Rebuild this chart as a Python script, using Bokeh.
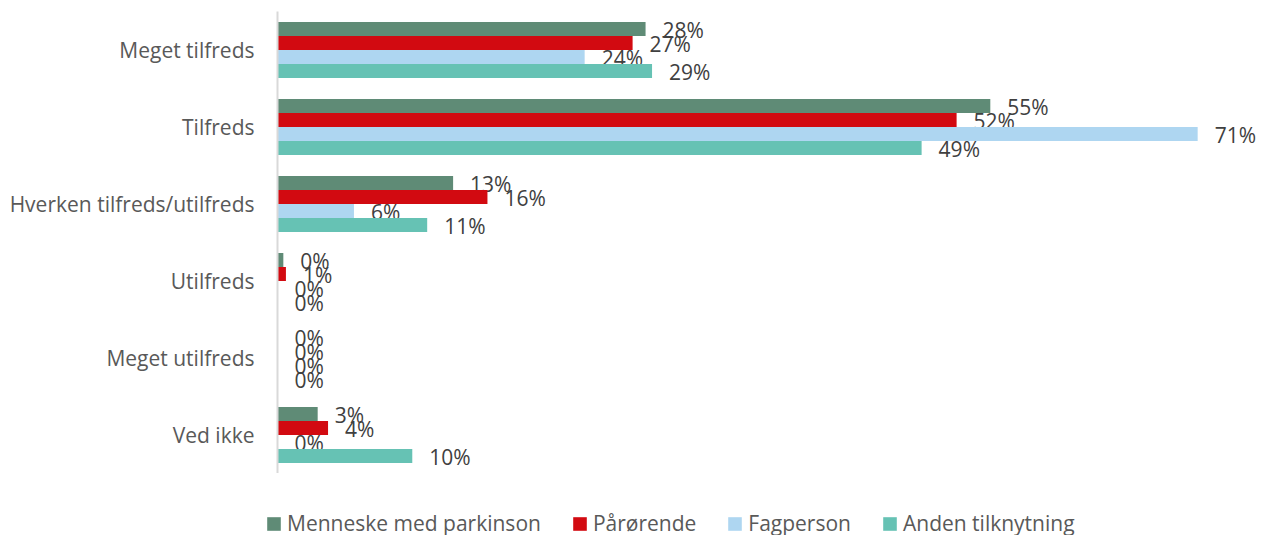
from bokeh.plotting import figure
from bokeh.layouts import column
from bokeh.models import Range1d, FactorRange, ColumnDataSource, Legend, LegendItem
from bokeh.transform import dodge
from bokeh.core.properties import value
from bokeh.embed import file_html
from bokeh.resources import INLINE

categories = ["Meget tilfreds", "Tilfreds", "Hverken tilfreds/utilfreds",
              "Utilfreds", "Meget utilfreds", "Ved ikke"]
series = ["Menneske med parkinson", "Pårørende", "Fagperson", "Anden tilknytning"]
colors = ["#5F8B76", "#D20A11", "#AED6F1", "#66C2B4"]

menneske = [28.4, 55.0, 13.55, 0.45, 0.0, 3.1]
paaroerende = [27.4, 52.4, 16.2, 0.65, 0.0, 3.9]
fagperson = [23.7, 71.0, 5.9, 0.0, 0.0, 0.0]
anden = [28.9, 49.7, 11.55, 0.0, 0.0, 10.4]

menneske_lbl = [28, 55, 13, 0, 0, 3]
paaroerende_lbl = [27, 52, 16, 1, 0, 4]
fagperson_lbl = [24, 71, 6, 0, 0, 0]
anden_lbl = [29, 49, 11, 0, 0, 10]

values_all = [menneske, paaroerende, fagperson, anden]
labels_all = [menneske_lbl, paaroerende_lbl, fagperson_lbl, anden_lbl]

FONT = "Open Sans"
FS = "21px"
bar_h = 0.182
offsets = [1.5 * bar_h, 0.5 * bar_h, -0.5 * bar_h, -1.5 * bar_h]

p = figure(width=1263, height=473, output_backend="svg", toolbar_location=None,
           y_range=FactorRange(factors=list(reversed(categories)), range_padding=0),
           x_range=Range1d(0, 76.08),
           x_axis_location=None)
p.min_border_left = 277
p.min_border_right = 0
p.min_border_top = 11
p.min_border_bottom = 0
p.outline_line_color = None
p.grid.visible = False

yaxis = p.yaxis[0]
yaxis.axis_line_color = "#D9D9D9"
yaxis.axis_line_width = 2
yaxis.major_tick_line_color = None
yaxis.minor_tick_line_color = None
yaxis.major_label_text_font = FONT
yaxis.major_label_text_font_size = FS
yaxis.major_label_text_color = "#595959"
yaxis.major_label_standoff = 17

# legend strip below the chart
lp = figure(width=1263, height=62, output_backend="svg", toolbar_location=None,
            x_axis_location=None, y_axis_location=None,
            x_range=Range1d(0, 76.08),
            y_range=FactorRange(factors=list(reversed(categories)), range_padding=0))
lp.min_border_left = 0
lp.min_border_right = 0
lp.min_border_top = 0
lp.min_border_bottom = 0
lp.frame_align = False
lp.outline_line_color = None
lp.grid.visible = False

items = []
for name, col, vals, lbls, off in zip(series, colors, values_all, labels_all, offsets):
    src = ColumnDataSource(dict(cat=categories, val=vals,
                                lbl=[f"{v}%" for v in lbls]))
    p.hbar(y=dodge("cat", off, range=p.y_range), right="val", left=0,
           height=bar_h, fill_color=col, line_color=None, source=src)
    p.text(x="val", y=dodge("cat", off, range=p.y_range), text="lbl", source=src,
           x_offset=17, y_offset=1, text_align="left", text_baseline="middle",
           text_font=value(FONT), text_font_size=FS, text_color="#404040")
    # legend proxy (hidden) using the same series
    r = lp.hbar(y="cat", right="val", left=0, height=bar_h, fill_color=col,
                line_color=None, source=src, visible=False)
    items.append(LegendItem(label=name, renderers=[r]))

legend = Legend(items=items, orientation="horizontal", location=(265, -2),
                glyph_width=17, glyph_height=17, label_standoff=5, spacing=30,
                label_text_font=FONT, label_text_font_size=FS,
                label_text_color="#595959", border_line_color=None,
                background_fill_alpha=0, padding=0, margin=0)
lp.add_layout(legend, "center")

layout = column(p, lp, spacing=0)
open("out.html", "w").write(file_html(layout, INLINE))
